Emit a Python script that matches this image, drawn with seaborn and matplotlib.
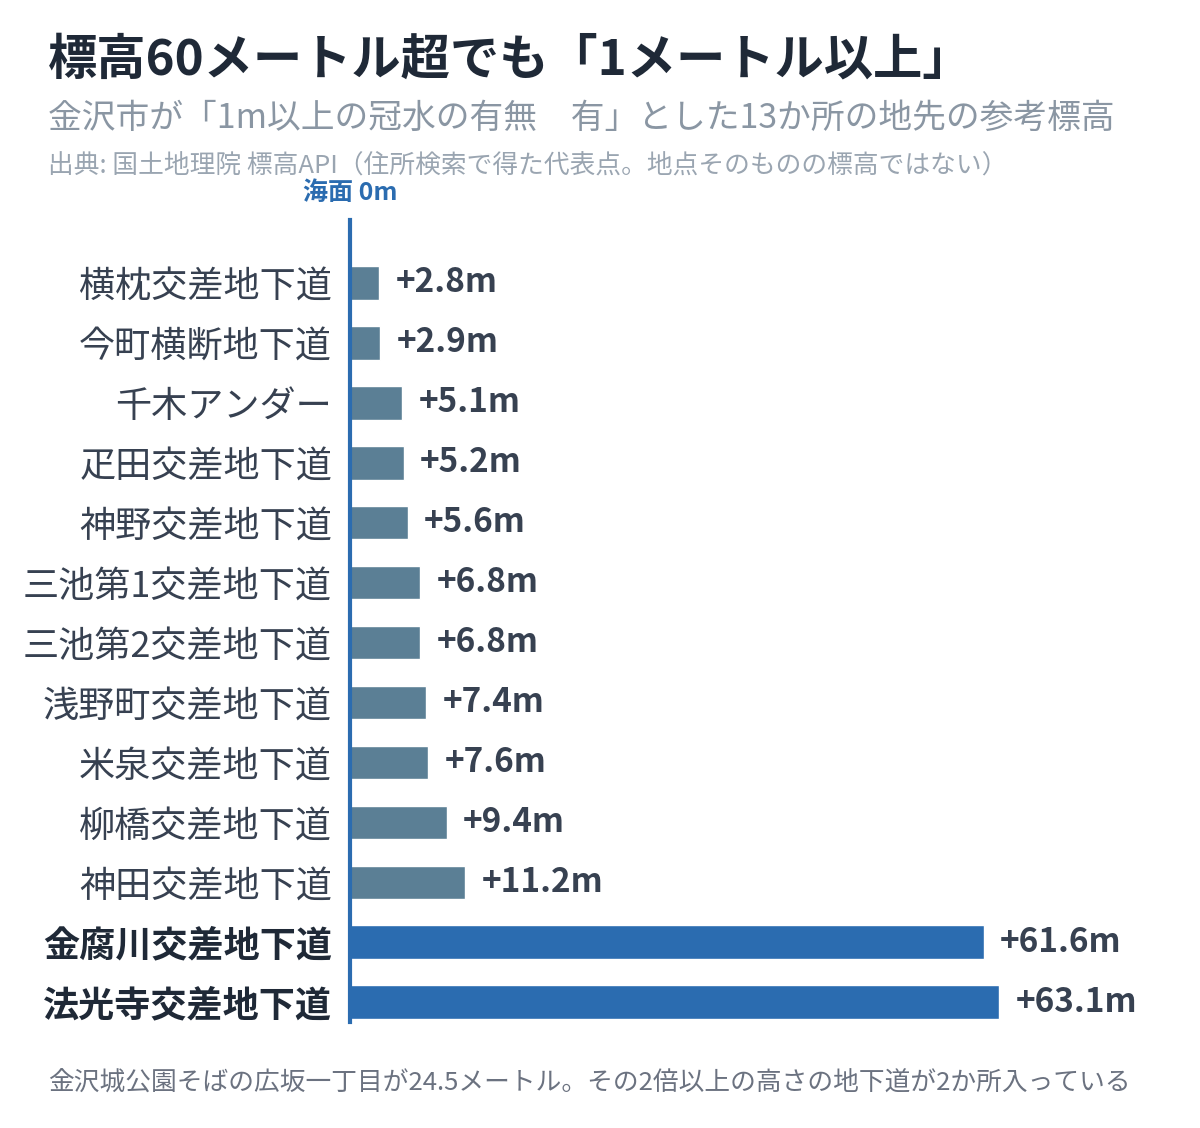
import matplotlib
matplotlib.use("Agg")
import matplotlib.pyplot as plt
import seaborn as sns
import pandas as pd

# 地下道と標高（国土地理院 標高API）
names = ["横枕交差地下道", "今町横断地下道", "千木アンダー", "疋田交差地下道", "神野交差地下道",
         "三池第1交差地下道", "三池第2交差地下道", "浅野町交差地下道", "米泉交差地下道",
         "柳橋交差地下道", "神田交差地下道", "金腐川交差地下道", "法光寺交差地下道"]
heights = [2.8, 2.9, 5.1, 5.2, 5.6, 6.8, 6.8, 7.4, 7.6, 9.4, 11.2, 61.6, 63.1]
highlight = [False] * 11 + [True, True]

sns.set_theme(style="white")
plt.rcParams['font.family'] = ['Noto Sans CJK JP', 'DejaVu Sans']

df = pd.DataFrame({"name": names, "height": heights, "hl": highlight})
GRAY = "#5b7f95"
BLUE = "#2b6cb0"
TXT = "#374151"

fig = plt.figure(figsize=(12, 11.28), dpi=100)
ax = fig.add_axes([0.2917, 0.094, 0.6, 0.711])
sns.barplot(data=df, x="height", y="name", hue="hl", palette={False: GRAY, True: BLUE},
            width=0.56, saturation=1, legend=False, ax=ax, orient="h")
ax.set_xlim(0, 70)
ax.set_ylim(12.33, -1.05)
ax.set_xticks([])
ax.set_xlabel("")
ax.set_ylabel("")
for s in ["top", "right", "bottom"]:
    ax.spines[s].set_visible(False)
ax.spines["left"].set_color(BLUE)
ax.spines["left"].set_linewidth(3)
ax.tick_params(axis="y", length=0, pad=13)
for lab, hl in zip(ax.get_yticklabels(), highlight):
    lab.set_fontsize(26)
    lab.set_color("#1f2937" if hl else TXT)
    if hl:
        lab.set_fontweight("bold")

for i, h in enumerate(heights):
    ax.text(h + 1.6, i, f"+{h}m", va="center", ha="left", fontsize=24,
            fontweight="bold", color=TXT, clip_on=False)

ax.text(0, -1.3, "海面 0m", color=BLUE, fontsize=18, fontweight="bold",
        ha="center", va="bottom", clip_on=False)

fig.text(0.04, 0.947, "標高60メートル超でも「1メートル以上」", fontsize=35.5,
         fontweight="bold", color="#1f2937", va="center")
fig.text(0.04, 0.895, "金沢市が「1m以上の冠水の有無　有」とした13か所の地先の参考標高",
         fontsize=24.3, color="#8a96a3", va="center")
fig.text(0.04, 0.853, "出典: 国土地理院 標高API（住所検索で得た代表点。地点そのものの標高ではない）",
         fontsize=18.5, color="#9aa5b1", va="center")
fig.text(0.04, 0.039, "金沢城公園そばの広坂一丁目が24.5メートル。その2倍以上の高さの地下道が2か所入っている",
         fontsize=18.5, color="#6b7280", va="center")

fig.savefig("out.png", dpi=100)
